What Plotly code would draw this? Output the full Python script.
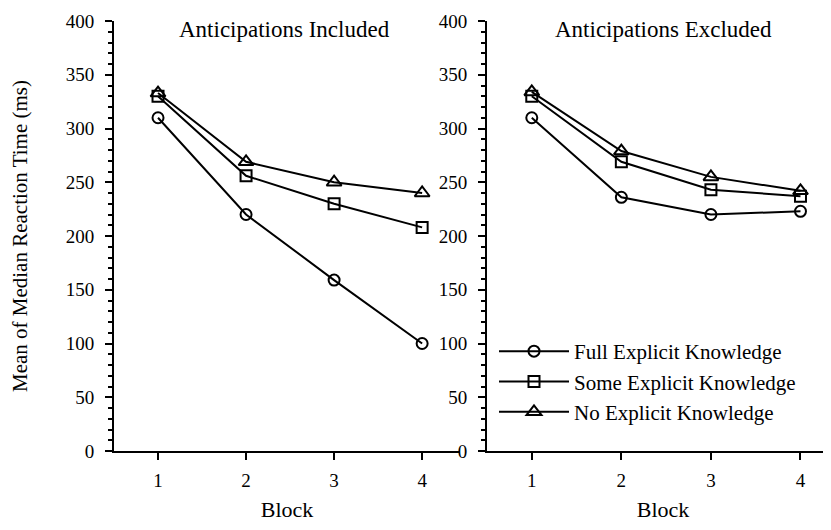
import plotly.graph_objects as go

blocks = [1, 2, 3, 4]
series_names = ["Full Explicit Knowledge", "Some Explicit Knowledge", "No Explicit Knowledge"]
symbols = ["circle-open", "square-open", "triangle-up-open"]
marker_sizes = [11, 11, 13]

# Anticipations Included
incl_full = [310, 220, 159, 100]
incl_some = [330, 256, 230, 208]
incl_none = [333, 269, 250, 240]

# Anticipations Excluded
excl_full = [310, 236, 220, 223]
excl_some = [330, 269, 243, 237]
excl_none = [334, 279, 255, 242]

panel_titles = ["Anticipations Included", "Anticipations Excluded"]

FONT = "Liberation Serif"
W, H = 831, 530

fig = go.Figure()

incl = [incl_full, incl_some, incl_none]
excl = [excl_full, excl_some, excl_none]

for i, name in enumerate(series_names):
    fig.add_trace(go.Scatter(
        x=blocks, y=incl[i], mode="lines+markers", name=name,
        line=dict(color="black", width=2),
        marker=dict(symbol=symbols[i], size=marker_sizes[i], color="black",
                    line=dict(width=2, color="black")),
        xaxis="x", yaxis="y", showlegend=True))
for i, name in enumerate(series_names):
    fig.add_trace(go.Scatter(
        x=blocks, y=excl[i], mode="lines+markers", name=name,
        line=dict(color="black", width=2),
        marker=dict(symbol=symbols[i], size=marker_sizes[i], color="black",
                    line=dict(width=2, color="black")),
        xaxis="x2", yaxis="y2", showlegend=False))

xcommon = dict(range=[0.5, 4.43], tickvals=blocks, ticks="outside", ticklen=7,
               tickwidth=2, tickcolor="black", showline=True, linewidth=2,
               linecolor="black", showgrid=False, zeroline=False,
               tickfont=dict(family=FONT, size=19, color="black"),
               ticklabelstandoff=4,
               title=dict(text="Block", font=dict(family=FONT, size=22, color="black"),
                          standoff=12))
ycommon = dict(range=[0, 400], tickmode="linear", tick0=0, dtick=50,
               ticks="outside", ticklen=7,
               tickwidth=2, tickcolor="black", showline=True, linewidth=2,
               linecolor="black", showgrid=False, zeroline=False,
               minor=dict(dtick=10, tick0=0, ticks="outside", ticklen=4,
                          tickwidth=2, tickcolor="black", showgrid=False),
               tickfont=dict(family=FONT, size=19, color="black"),
               ticklabelstandoff=7)

fig.update_layout(
    width=W, height=H,
    margin=dict(l=0, r=0, t=13, b=87),
    paper_bgcolor="white", plot_bgcolor="white",
    font=dict(family=FONT, color="black"),
    xaxis=dict(domain=[106 / W, 452 / W], anchor="y", **xcommon),
    xaxis2=dict(domain=[479 / W, 1.0], anchor="y2", **xcommon),
    yaxis=dict(domain=[0, 1], anchor="x",
               title=dict(text="Mean of Median Reaction Time (ms)",
                          font=dict(family=FONT, size=21, color="black"),
                          standoff=32),
               **ycommon),
    yaxis2=dict(domain=[0, 1], anchor="x2", **ycommon),
    legend=dict(x=486 / W, y=0.279, xanchor="left", yanchor="top",
                bgcolor="rgba(0,0,0,0)", borderwidth=0,
                font=dict(family=FONT, size=21, color="black"),
                tracegroupgap=0, itemwidth=70),
    annotations=[
        dict(text=panel_titles[0], x=(100 + 452) / 2 / W, y=1.0, xref="paper", yref="paper",
             xanchor="center", yanchor="top", showarrow=False, yshift=6,
             font=dict(family=FONT, size=23, color="black")),
        dict(text=panel_titles[1], x=(479 + 831) / 2 / W, y=1.0, xref="paper", yref="paper",
             xanchor="center", yanchor="top", showarrow=False, yshift=6,
             font=dict(family=FONT, size=23, color="black")),
    ],
)

fig.write_html("out.html")
